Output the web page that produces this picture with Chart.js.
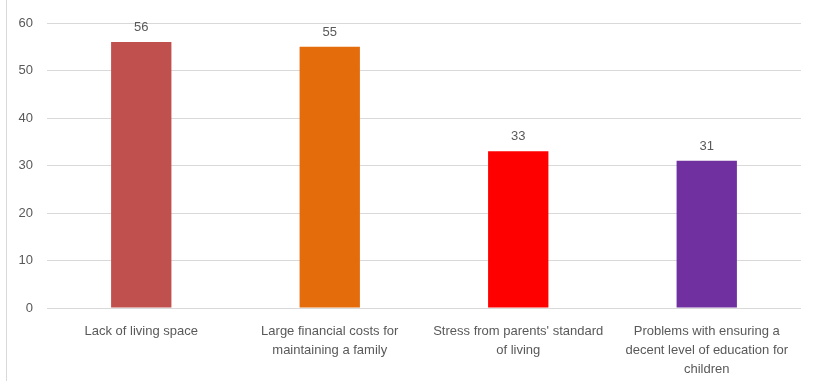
<!DOCTYPE html>
<html>
<head>
<meta charset="utf-8">
<script src="https://cdn.jsdelivr.net/npm/chart.js@4"></script>
<style>
  html, body { margin: 0; padding: 0; background: #fff; }
  #wrap { position: relative; width: 813px; height: 381px; }
</style>
</head>
<body>
<div id="wrap"><canvas id="myChart" width="813" height="381"></canvas></div>
<script>
// categories, split into the lines they wrap to
var categories = [
    ["Lack of living space"],
    ["Large financial costs for", "maintaining a family"],
    ["Stress from parents' standard", "of living"],
    ["Problems with ensuring a", "decent level of education for", "children"]
];
var values = [56, 55, 33, 31];
var barColors = ["#C0504D", "#E46C0A", "#FF0000", "#7030A0"];
var yTicks = [0, 10, 20, 30, 40, 50, 60];

var textColor = "#595959";
var fontFamily = "'Liberation Sans', Arial, sans-serif";

// values written above each bar
var valueLabels = {
    id: "valueLabels",
    afterDatasetsDraw(chart) {
        var ctx = chart.ctx;
        var meta = chart.getDatasetMeta(0);
        ctx.save();
        ctx.fillStyle = textColor;
        ctx.font = "13px " + fontFamily;
        ctx.textAlign = "center";
        ctx.textBaseline = "bottom";
        meta.data.forEach(function (bar, i) {
            ctx.fillText(values[i], bar.x, bar.y - 8);
        });
        ctx.restore();
    }
};

// thin frame line on the left edge like the original
var frameLine = {
    id: "frameLine",
    beforeDraw(chart) {
        var ctx = chart.ctx;
        ctx.save();
        ctx.strokeStyle = "#d9d9d9";
        ctx.lineWidth = 1;
        ctx.beginPath();
        ctx.moveTo(6.5, 0);
        ctx.lineTo(6.5, chart.height);
        ctx.stroke();
        ctx.restore();
    }
};

const config = {
    type: "bar",
    data: {
        labels: categories,
        datasets: [{
            data: values,
            backgroundColor: barColors,
            categoryPercentage: 1,
            barPercentage: 0.32
        }]
    },
    options: {
        responsive: false,
        animation: false,
        layout: { padding: { top: 23, right: 12, left: 0, bottom: 0 } },
        plugins: {
            legend: { display: false },
            tooltip: { enabled: false }
        },
        scales: {
            x: {
                afterFit(axis) { axis.height = 73; },
                grid: { display: false, drawTicks: false },
                border: { display: false },
                ticks: {
                    color: textColor,
                    font: { family: fontFamily, size: 13, lineHeight: 1.45 },
                    padding: 14,
                    maxRotation: 0,
                    autoSkip: false
                }
            },
            y: {
                min: 0,
                max: 60,
                afterBuildTicks(axis) {
                    axis.ticks = yTicks.map(v => ({ value: v }));
                },
                afterFit(axis) { axis.width = 47; },
                grid: { color: "#d9d9d9", lineWidth: 1, drawTicks: false },
                border: { display: false },
                ticks: {
                    color: textColor,
                    font: { family: fontFamily, size: 13 },
                    padding: 14
                }
            }
        }
    },
    plugins: [valueLabels, frameLine]
};

const myChart = new Chart(document.getElementById("myChart"), config);
</script>
</body>
</html>
